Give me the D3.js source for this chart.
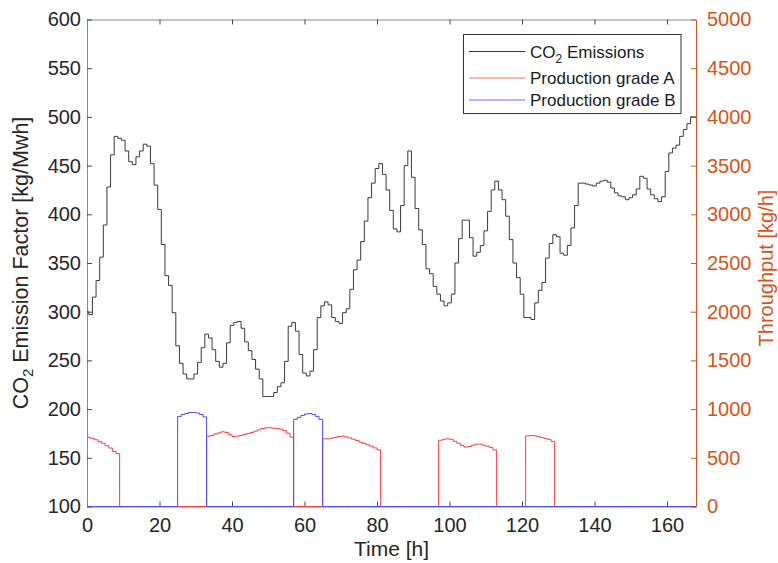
<!DOCTYPE html>
<html>
<head>
<meta charset="utf-8">
<script src="https://cdn.jsdelivr.net/npm/d3@7"></script>
<style>
  body { margin: 0; background: #fff; }
  text { font-family: "Liberation Sans", Arial, sans-serif; }
</style>
</head>
<body>
<svg id="chart" width="778" height="563"></svg>
<script>
// hourly time stamps 0..168 h
const hours = d3.range(0, 169);

// CO2 emission factor [kg/Mwh], one value per hour
const co2 = [
  300,297,315,332,356,389,428,461,480,478,
  476,465,454,451,459,465,472,470,452,430,
  405,369,337,327,299,265,247,236,231,231,
  236,248,263,277,273,261,249,243,247,268,
  286,289,290,283,269,260,251,241,231,213,
  213,213,217,223,227,249,285,289,280,256,
  237,234,239,261,294,306,310,307,294,290,
  288,299,303,323,343,353,372,393,417,432,
  447,452,441,425,404,385,382,409,450,465,
  438,406,384,369,344,339,326,318,311,306,
  309,318,350,375,394,394,376,357,361,368,
  383,403,425,434,425,415,398,374,350,335,
  318,294,294,292,309,322,330,355,370,379,
  377,360,358,368,386,409,432,432,431,430,
  429,432,434,435,433,427,422,419,418,415,
  417,420,426,439,437,426,420,416,413,418,
  444,463,468,471,480,487,493,500,500
];

// throughput [kg/h] for grade A, one value per hour
const gradeA = [
  710,700,685,665,650,625,600,565,545,0,
  0,0,0,0,0,0,0,0,0,0,
  0,0,0,0,0,0,0,0,0,0,
  0,0,0,722,729,746,756,767,760,736,
  719,722,729,739,749,760,773,787,801,808,
  808,804,801,794,780,753,712,0,0,0,
  0,0,0,0,0,695,695,701,708,719,
  722,715,705,691,678,660,647,633,619,602,
  582,0,0,0,0,0,0,0,0,0,
  0,0,0,0,0,0,0,680,690,695,
  690,670,650,625,610,615,630,640,640,630,
  620,605,580,0,0,0,0,0,0,0,
  0,725,728,726,718,708,700,690,668,0,
  0,0,0,0,0,0,0,0,0,0,
  0,0,0,0,0,0,0,0,0,0,
  0,0,0,0,0,0,0,0,0,0,
  0,0,0,0,0,0,0,0,0
];

// throughput [kg/h] for grade B, one value per hour
const gradeB = [
  0,0,0,0,0,0,0,0,0,0,
  0,0,0,0,0,0,0,0,0,0,
  0,0,0,0,0,925,945,955,965,965,
  960,945,920,0,0,0,0,0,0,0,
  0,0,0,0,0,0,0,0,0,0,
  0,0,0,0,0,0,0,895,915,935,
  950,955,945,925,895,0,0,0,0,0,
  0,0,0,0,0,0,0,0,0,0,
  0,0,0,0,0,0,0,0,0,0,
  0,0,0,0,0,0,0,0,0,0,
  0,0,0,0,0,0,0,0,0,0,
  0,0,0,0,0,0,0,0,0,0,
  0,0,0,0,0,0,0,0,0,0,
  0,0,0,0,0,0,0,0,0,0,
  0,0,0,0,0,0,0,0,0,0,
  0,0,0,0,0,0,0,0,0,0,
  0,0,0,0,0,0,0,0,0
];

const xTicks = [0,20,40,60,80,100,120,140,160];
const leftTicks = [100,150,200,250,300,350,400,450,500,550,600];
const rightTicks = [0,500,1000,1500,2000,2500,3000,3500,4000,4500,5000];
const legendNames = ["Emissions", "Production grade A", "Production grade B"];

const orange = "#D95319";
const axisGray = "#8a8a8a";
const tickFont = 20;

const svg = d3.select("#chart");
const pLeft = 87, pRight = 696, pTop = 19.5, pBottom = 506.5;

const x = d3.scaleLinear().domain([0, 168]).range([pLeft, pRight]);
const yL = d3.scaleLinear().domain([100, 600]).range([pBottom, pTop]);
const yR = d3.scaleLinear().domain([0, 5000]).range([pBottom, pTop]);

// axes
const gx = svg.append("g").attr("transform", `translate(0,${pBottom})`)
  .call(d3.axisBottom(x).tickValues(xTicks).tickSizeInner(-5).tickSizeOuter(0).tickPadding(11));
const gt = svg.append("g").attr("transform", `translate(0,${pTop})`)
  .call(d3.axisTop(x).tickValues(xTicks).tickSizeInner(-5).tickSizeOuter(0).tickFormat(""));
const gl = svg.append("g").attr("transform", `translate(${pLeft},0)`)
  .call(d3.axisLeft(yL).tickValues(leftTicks).tickSizeInner(-5).tickSizeOuter(0).tickPadding(6));
const gr = svg.append("g").attr("transform", `translate(${pRight},0)`)
  .call(d3.axisRight(yR).tickValues(rightTicks).tickFormat(d3.format("d"))
    .tickSizeInner(-5).tickSizeOuter(0).tickPadding(11));

[gx, gt, gl].forEach(g => {
  g.select(".domain").attr("stroke", axisGray);
  g.selectAll(".tick line").attr("stroke", "#444");
  g.selectAll(".tick text").attr("fill", "#262626").style("font-size", tickFont + "px");
});
gr.select(".domain").attr("stroke", orange);
gr.selectAll(".tick line").attr("stroke", orange);
gr.selectAll(".tick text").attr("fill", orange).style("font-size", tickFont + "px");

// data lines
const lineL = d3.line().x((d, i) => x(hours[i])).y(d => yL(d)).curve(d3.curveStep);
const lineR = d3.line().x((d, i) => x(hours[i])).y(d => yR(d)).curve(d3.curveStepAfter);

svg.append("path").attr("d", lineL(co2)).attr("fill", "none")
  .attr("stroke", "#3a3a3a").attr("stroke-width", 1);
svg.append("path").attr("d", lineR(gradeA)).attr("fill", "none")
  .attr("stroke", "#ff3c3c").attr("stroke-width", 1);
svg.append("path").attr("d", lineR(gradeB)).attr("fill", "none")
  .attr("stroke", "#4a4aff").attr("stroke-width", 1);

// axis labels
svg.append("text").attr("x", (pLeft + pRight) / 2).attr("y", 556)
  .attr("text-anchor", "middle").style("font-size", "21px").attr("fill", "#262626")
  .text("Time [h]");

const ylab = svg.append("text")
  .attr("transform", `translate(28,${(pTop + pBottom) / 2}) rotate(-90)`)
  .attr("text-anchor", "middle").style("font-size", "21.5px").attr("fill", "#262626");
ylab.append("tspan").text("CO");
ylab.append("tspan").attr("dy", 5).style("font-size", "15px").text("2");
ylab.append("tspan").attr("dy", -5).text(" Emission Factor [kg/Mwh]");

svg.append("text")
  .attr("transform", `translate(773,${(pTop + pBottom) / 2 + 5}) rotate(-90)`)
  .attr("text-anchor", "middle").style("font-size", "20px").attr("fill", orange)
  .text("Throughput [kg/h]");

// legend
const lg = svg.append("g");
lg.append("rect").attr("x", 463.5).attr("y", 34.5).attr("width", 217.5).attr("height", 79)
  .attr("fill", "#fff").attr("stroke", "#333").attr("stroke-width", 1);
const legendColors = ["#333", "#ff6a6a", "#6a6aff"];
const legendY = [51.5, 78, 100];
legendNames.forEach((name, i) => {
  lg.append("line").attr("x1", 469).attr("x2", 525).attr("y1", legendY[i]).attr("y2", legendY[i])
    .attr("stroke", legendColors[i]).attr("stroke-width", 1);
  const t = lg.append("text").attr("x", 530).attr("y", legendY[i] + 6)
    .style("font-size", "17px").attr("fill", "#1a1a1a");
  if (i === 0) {
    t.append("tspan").text("CO");
    t.append("tspan").attr("dy", 5).style("font-size", "12px").text("2");
    t.append("tspan").attr("dy", -5).text(" " + name);
  } else {
    t.text(name);
  }
});
</script>
</body>
</html>
